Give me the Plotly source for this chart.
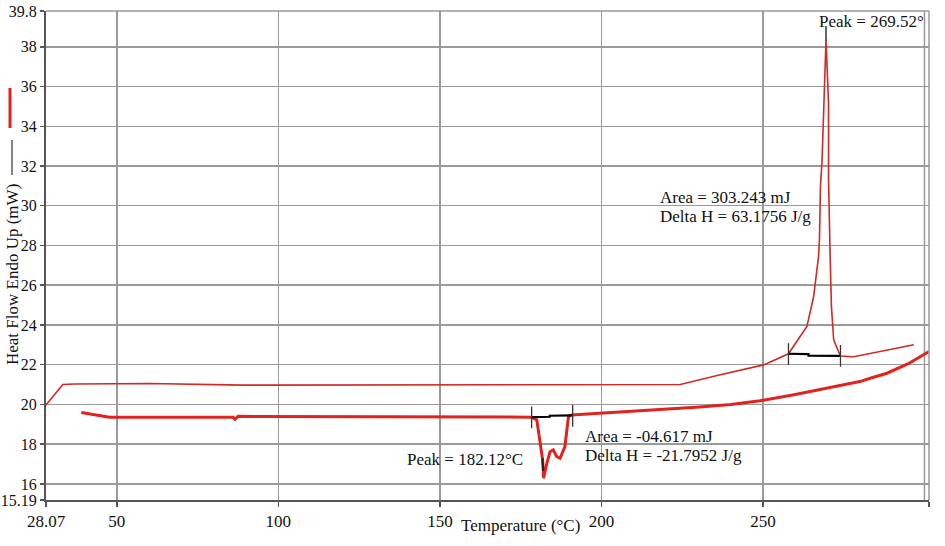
import plotly.graph_objects as go

# ---- data ----
upper_x = [28.07, 33.27, 36.9, 60.1, 89.0, 137.6, 199.6, 224.4, 236.8, 250.2, 257.9,
           263.6, 265.7, 267.2, 267.5, 267.8, 268.3, 268.7, 269.0, 269.3, 269.52,
           270.3, 270.3, 270.8, 271.2, 271.9, 274.0, 278.1, 296.7]
upper_y = [19.97, 21.0, 21.03, 21.05, 20.97, 20.98, 21.0, 21.0, 21.49, 21.99, 22.55,
           23.92, 25.43, 27.45, 28.36, 30.95, 32.3, 33.97, 35.48, 36.99, 38.35,
           35.15, 31.38, 27.43, 24.92, 23.24, 22.44, 22.4, 23.0]

lower_x = [39.0, 43.6, 47.7, 86.0, 86.6, 87.5, 168.6, 178.4, 180.0, 181.0, 181.8,
           182.12, 183.1, 184.1, 185.1, 186.2, 187.2, 188.7, 189.3, 189.8, 190.8,
           199.6, 215.0, 230.5, 240.0, 249.1, 260.0, 269.8, 280.0, 283.2, 288.4,
           295.0, 301.4]
lower_y = [19.59, 19.48, 19.36, 19.36, 19.25, 19.4, 19.36, 19.36, 19.22, 18.21, 17.21,
           16.29, 17.04, 17.62, 17.71, 17.37, 17.29, 17.88, 18.72, 19.39, 19.47,
           19.56, 19.7, 19.87, 20.0, 20.18, 20.5, 20.81, 21.15, 21.32, 21.57,
           22.05, 22.66]

base1_x = [178.4, 184.0, 184.0, 190.8]
base1_y = [19.36, 19.38, 19.43, 19.45]
base2_x = [257.9, 264.1, 264.1, 274.0]
base2_y = [22.55, 22.53, 22.45, 22.44]

x_ticks = [28.07, 50, 100, 150, 200, 250, 301.4]
x_tick_text = ["28.07", "50", "100", "150", "200", "250", "301.4"]
y_ticks = [15.19, 16, 18, 20, 22, 24, 26, 28, 30, 32, 34, 36, 38, 39.8]
y_tick_text = ["15.19", "16", "18", "20", "22", "24", "26", "28", "30", "32", "34", "36", "38", "39.8"]

FONT = "Liberation Serif, Times New Roman, serif"
RED = "#e0231f"
DARKRED = "#cf2a26"

fig = go.Figure()
fig.add_trace(go.Scatter(x=upper_x, y=upper_y, mode="lines",
                         line=dict(color=DARKRED, width=1.6), hoverinfo="skip"))
fig.add_trace(go.Scatter(x=lower_x, y=lower_y, mode="lines",
                         line=dict(color=RED, width=3), hoverinfo="skip"))
# baselines
fig.add_trace(go.Scatter(x=base1_x, y=base1_y, mode="lines",
                         line=dict(color="black", width=2.2), hoverinfo="skip"))
fig.add_trace(go.Scatter(x=base2_x, y=base2_y, mode="lines",
                         line=dict(color="black", width=2.2), hoverinfo="skip"))
# limit markers
for xv, y0, y1 in [(178.4, 18.8, 19.89), (191.1, 18.88, 19.97),
                   (257.9, 21.99, 23.08), (274.0, 21.9, 22.99)]:
    fig.add_trace(go.Scatter(x=[xv, xv], y=[y0, y1], mode="lines",
                             line=dict(color="#333", width=1.3), hoverinfo="skip"))
# peak markers
fig.add_trace(go.Scatter(x=[269.52, 269.52], y=[38.3, 39.05], mode="lines",
                         line=dict(color="#333", width=1.5), hoverinfo="skip"))
fig.add_trace(go.Scatter(x=[181.75, 182.0], y=[17.3, 16.65], mode="lines",
                         line=dict(color="#222", width=2), hoverinfo="skip"))

ann_font = dict(family=FONT, size=17, color="#111")
annotations = [
    dict(x=266.8, y=39.25, text="Peak = 269.52°", xanchor="left", yanchor="middle"),
    dict(x=217.6, y=30.39, text="Area = 303.243 mJ", xanchor="left", yanchor="middle"),
    dict(x=217.6, y=29.45, text="Delta H = 63.1756 J/g", xanchor="left", yanchor="middle"),
    dict(x=194.4, y=18.38, text="Area = -04.617 mJ", xanchor="left", yanchor="middle"),
    dict(x=194.4, y=17.45, text="Delta H = -21.7952 J/g", xanchor="left", yanchor="middle"),
    dict(x=176.3, y=17.21, text="Peak = 182.12°C", xanchor="right", yanchor="middle"),
]
for a in annotations:
    a.update(xref="x", yref="y", showarrow=False, font=ann_font)

# axis titles
annotations.append(dict(xref="paper", yref="paper", x=(520 - 46) / 883, y=-0.052,
                        text="Temperature (°C)", showarrow=False, font=ann_font,
                        xanchor="center", yanchor="middle"))
annotations.append(dict(xref="paper", yref="paper", x=(12 - 46) / 883, y=(500 - 275) / 489,
                        text="Heat Flow Endo Up (mW)", showarrow=False, font=ann_font,
                        textangle=-90, xanchor="center", yanchor="middle"))

shapes = [
    # grid line at 300
    dict(type="line", xref="x", yref="paper", x0=300, x1=300, y0=0, y1=1,
         line=dict(color="#9a9a9a", width=1.5), layer="below"),
    # top and right borders
    dict(type="line", xref="paper", yref="paper", x0=0, x1=1, y0=1, y1=1,
         line=dict(color="#9a9a9a", width=1.5)),
    dict(type="line", xref="paper", yref="paper", x0=1, x1=1, y0=0, y1=1,
         line=dict(color="#9a9a9a", width=1.5)),
    # legend glyphs beside the y title
    dict(type="line", xref="paper", yref="paper", x0=(10 - 46) / 883, x1=(10 - 46) / 883,
         y0=(500 - 88) / 489, y1=(500 - 128) / 489, line=dict(color=RED, width=3)),
    dict(type="line", xref="paper", yref="paper", x0=(12 - 46) / 883, x1=(12 - 46) / 883,
         y0=(500 - 140) / 489, y1=(500 - 175) / 489, line=dict(color="#333", width=1.2)),
]

fig.update_layout(
    width=945, height=546,
    margin=dict(l=46, r=16, t=11, b=46, autoexpand=False),
    paper_bgcolor="white", plot_bgcolor="white",
    showlegend=False,
    font=dict(family=FONT, size=17, color="#111"),
    annotations=annotations,
    shapes=shapes,
    xaxis=dict(range=[28.07, 301.4], tickvals=x_ticks, ticktext=x_tick_text,
               automargin=False,
               showgrid=True, gridcolor="#9a9a9a", gridwidth=1.5,
               showline=True, linecolor="#555", linewidth=2,
               ticks="outside", ticklen=5, tickcolor="#555", tickwidth=1.5,
               zeroline=False, tickfont=dict(family=FONT, size=17, color="#111")),
    yaxis=dict(range=[15.19, 39.8], tickvals=y_ticks, ticktext=y_tick_text,
               automargin=False,
               showgrid=True, gridcolor="#9a9a9a", gridwidth=1.5,
               showline=True, linecolor="#555", linewidth=2,
               ticks="outside", ticklen=4, tickcolor="#555", tickwidth=1.5,
               zeroline=False, tickfont=dict(family=FONT, size=16, color="#111")),
)

fig.write_html("out.html",
               config={"displayModeBar": False, "staticPlot": True},
               post_script="document.body.style.margin='0';document.body.style.overflow='hidden';")
